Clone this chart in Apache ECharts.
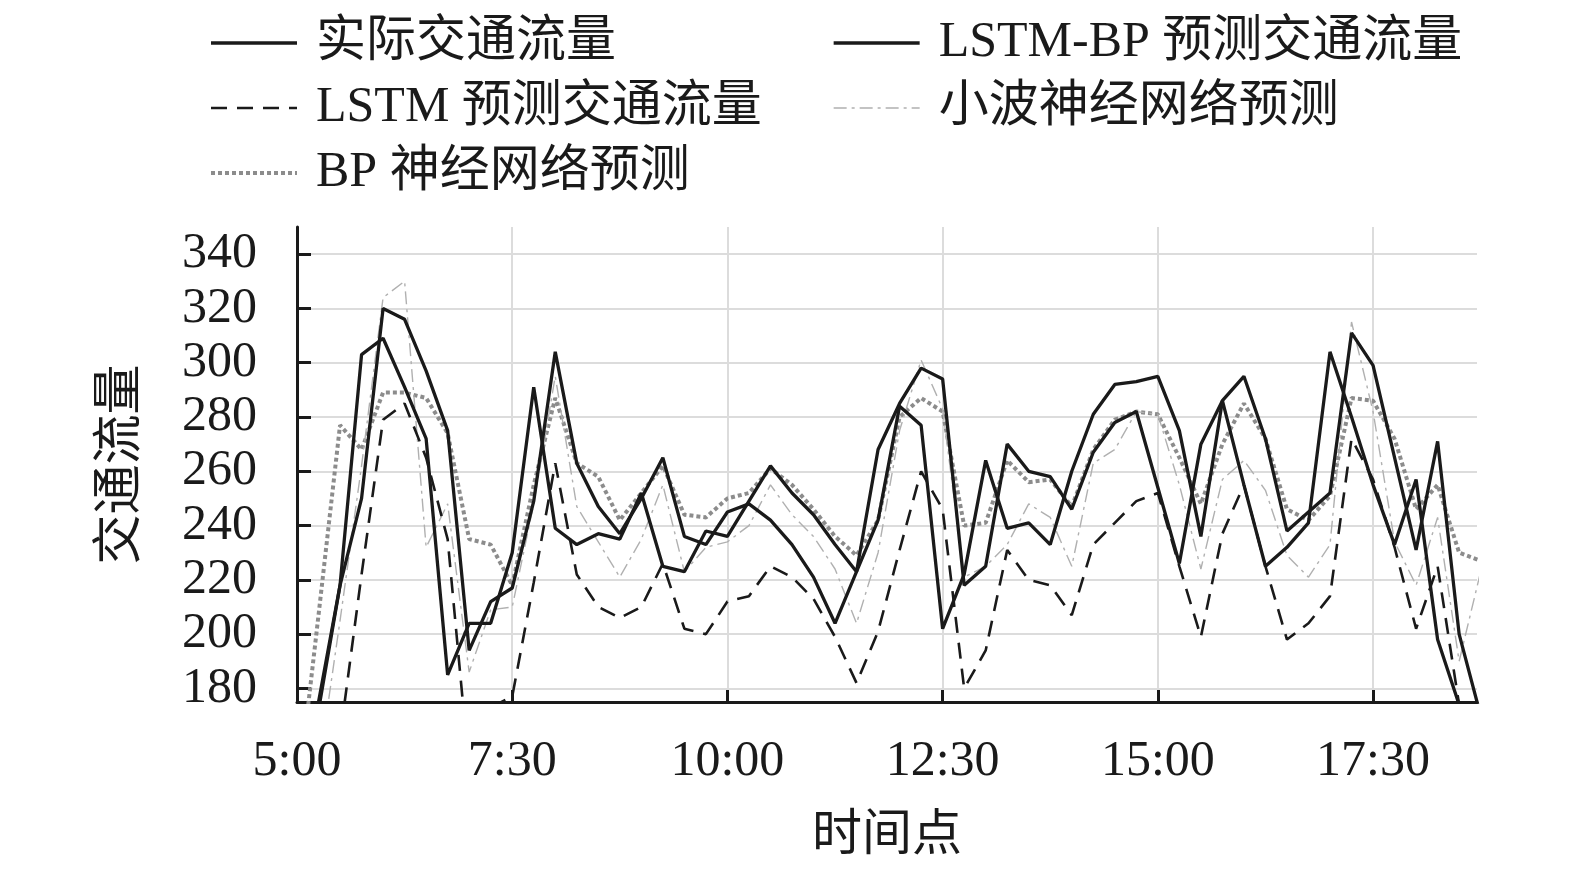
<!DOCTYPE html>
<html>
<head>
<meta charset="utf-8">
<title>交通流量预测对比</title>
<script src="https://cdn.jsdelivr.net/npm/echarts@6/dist/echarts.min.js"></script>
<style>
  html, body { margin: 0; padding: 0; background: #fff; }
  #chart { width: 1575px; height: 873px; }
</style>
</head>
<body>
<div id="chart"></div>
<script>
// 15-minute slots from 5:00, x = slot index
const tickSlots = [0, 10, 20, 30, 40, 50]
const tickLabels = ['5:00', '7:30', '10:00', '12:30', '15:00', '17:30']
const yTicks = [180, 200, 220, 240, 260, 280, 300, 320, 340]

const actual = [140, 172, 218, 250, 320, 316, 297, 275, 194, 212,
  217, 249, 304, 263, 247, 237, 250, 265, 236, 233,
  245, 248, 242, 233, 221, 204, 223, 242, 284, 277,
  202, 222, 264, 239, 241, 233, 260, 281, 292, 293,
  295, 275, 236, 286, 295, 272, 238, 245, 252, 311,
  299, 265, 231, 271, 200, 170]

const lstmBp = [150, 175, 218, 303, 309, 291, 272, 185, 204, 204,
  230, 291, 239, 233, 237, 235, 252, 225, 223, 238,
  236, 249, 262, 252, 244, 233, 223, 268, 285, 298,
  294, 218, 225, 270, 260, 258, 246, 267, 278, 282,
  254, 226, 270, 286, 255, 225, 232, 241, 304, 280,
  255, 233, 257, 198, 174, 150]

const lstm = [100, 130, 162, 222, 279, 285, 265, 235, 150, 173,
  177, 219, 263, 222, 210, 206, 210, 226, 202, 200,
  212, 214, 225, 221, 213, 199, 182, 201, 231, 260,
  246, 180, 194, 231, 220, 218, 207, 233, 241, 249,
  252, 225, 199, 237, 255, 225, 198, 204, 214, 272,
  257, 232, 202, 225, 174, 140]

const wavelet = [120, 150, 205, 262, 324, 330, 232, 248, 186, 209,
  210, 248, 295, 247, 234, 221, 235, 255, 223, 232,
  234, 240, 255, 244, 236, 224, 204, 230, 275, 301,
  283, 221, 225, 233, 248, 243, 225, 263, 268, 282,
  281, 255, 224, 257, 264, 253, 229, 221, 233, 315,
  282, 234, 218, 243, 190, 223]

const bp = [138, 207, 277, 268, 289, 289, 287, 274, 235, 233,
  218, 255, 287, 263, 258, 242, 252, 262, 244, 243,
  250, 252, 261, 255, 246, 236, 229, 242, 280, 287,
  282, 240, 241, 264, 256, 257, 247, 268, 279, 282,
  281, 265, 248, 270, 285, 272, 246, 242, 251, 287,
  286, 272, 246, 255, 230, 227]

const FONT = "'Liberation Serif', 'Noto Sans CJK SC', serif"
const INK = '#1a1a1a'
const GRID = '#dcdcdc'

const styles = {
  solid: { color: INK, width: 3.3, type: 'solid' },
  dashed: { color: INK, width: 2.6, type: [16, 10] },
  dashDot: { color: '#b0b0b0', width: 1.4, type: [13, 5, 3, 5] },
  dotted: { color: '#8c8c8c', width: 4, type: [4, 3] }
}

function pairs(values) {
  return values.map((v, i) => [i, v])
}

function legendItem(name, style) {
  return { name: name, lineStyle: style }
}

const chart = echarts.init(document.getElementById('chart'))

const legendBase = {
  orient: 'vertical',
  top: 13,
  itemWidth: 86,
  itemHeight: 20,
  itemGap: 15,
  selectedMode: false,
  // hide the marker dot, keep the line sample
  itemStyle: { color: 'rgba(0,0,0,0)', borderColor: 'rgba(0,0,0,0)', borderWidth: 0 },
  textStyle: {
    fontFamily: FONT,
    fontSize: 50,
    lineHeight: 50,
    color: INK,
    padding: [0, 0, 0, 14]
  }
}

let option = {
  backgroundColor: '#fff',
  animation: false,
  textStyle: { fontFamily: FONT },
  legend: [
    Object.assign({}, legendBase, {
      left: 204,
      data: [
        legendItem('实际交通流量', styles.solid),
        legendItem('LSTM 预测交通流量', styles.dashed),
        legendItem('BP 神经网络预测', styles.dotted)
      ]
    }),
    Object.assign({}, legendBase, {
      left: 827,
      data: [
        legendItem('LSTM-BP 预测交通流量', styles.solid),
        legendItem('小波神经网络预测', styles.dashDot)
      ]
    })
  ],
  grid: { left: 297, top: 227, width: 1180, height: 475, containLabel: false },
  xAxis: {
    type: 'value',
    min: 0,
    max: 54.83,
    name: '时间点',
    nameLocation: 'middle',
    nameGap: 110,
    nameTextStyle: { fontFamily: FONT, fontSize: 50, color: INK },
    axisLine: { show: true, lineStyle: { color: INK, width: 3 } },
    axisTick: { show: true, inside: true, length: 12, customValues: tickSlots, lineStyle: { color: INK, width: 3 } },
    axisLabel: {
      customValues: tickSlots,
      margin: 35,
      fontFamily: FONT,
      fontSize: 50,
      color: INK,
      formatter: v => tickLabels[tickSlots.indexOf(Math.round(v))]
    },
    splitLine: { show: true, lineStyle: { color: GRID, width: 2 } }
  },
  yAxis: {
    type: 'value',
    min: 175,
    max: 350,
    name: '交通流量',
    nameLocation: 'middle',
    nameRotate: 90,
    nameGap: 150,
    nameTextStyle: { fontFamily: FONT, fontSize: 50, color: INK },
    axisLine: { show: true, lineStyle: { color: INK, width: 3 } },
    axisTick: { show: true, inside: true, length: 14, customValues: yTicks, lineStyle: { color: INK, width: 3 } },
    axisLabel: { customValues: yTicks, margin: 40, fontFamily: FONT, fontSize: 50, color: INK },
    splitLine: { show: true, lineStyle: { color: GRID, width: 2 } }
  },
  series: [
    {
      name: 'BP 神经网络预测',
      type: 'line',
      data: pairs(bp),
      symbol: 'none',
      lineStyle: styles.dotted,
      itemStyle: { color: styles.dotted.color }
    },
    {
      name: '小波神经网络预测',
      type: 'line',
      data: pairs(wavelet),
      symbol: 'none',
      lineStyle: styles.dashDot,
      itemStyle: { color: styles.dashDot.color }
    },
    {
      name: 'LSTM 预测交通流量',
      type: 'line',
      data: pairs(lstm),
      symbol: 'none',
      lineStyle: styles.dashed,
      itemStyle: { color: INK }
    },
    {
      name: 'LSTM-BP 预测交通流量',
      type: 'line',
      data: pairs(lstmBp),
      symbol: 'none',
      lineStyle: styles.solid,
      itemStyle: { color: INK }
    },
    {
      name: '实际交通流量',
      type: 'line',
      data: pairs(actual),
      symbol: 'none',
      lineStyle: styles.solid,
      itemStyle: { color: INK }
    }
  ]
}

chart.setOption(option)
</script>
</body>
</html>
